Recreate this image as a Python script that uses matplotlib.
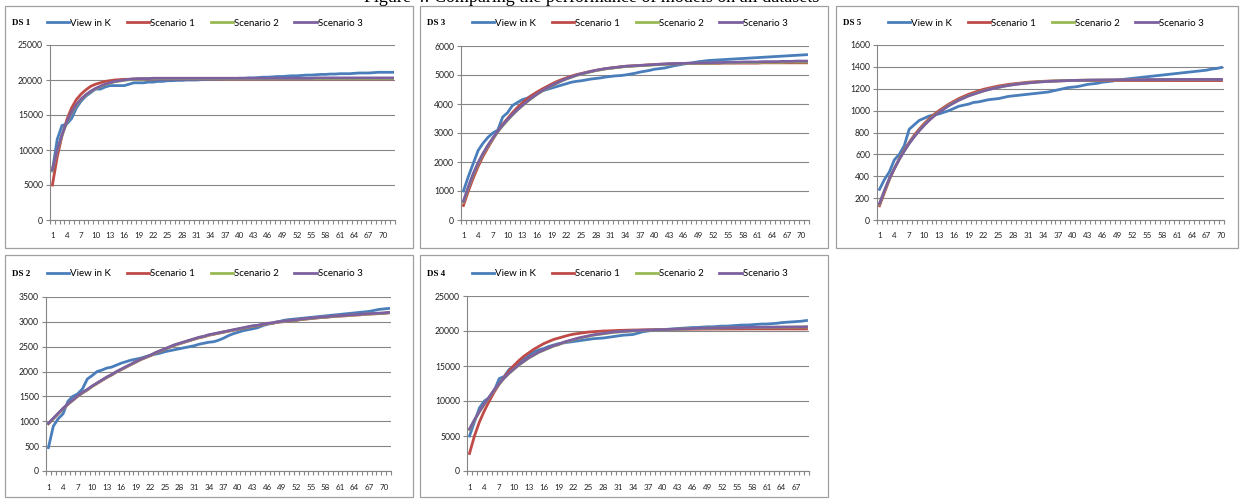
import numpy as np
import matplotlib.pyplot as plt
from matplotlib.patches import Rectangle

W, H = 1240, 499

series_names = ['View in K', 'Scenario 1', 'Scenario 2', 'Scenario 3']
series_colors = ['#4A7EBB', '#BE4B48', '#98B954', '#7D60A0']

# DS 1
ds1_view = [7000, 11500, 13500, 13700, 14500, 16000, 17000, 17700, 18200, 18700,
            18700, 19000, 19200, 19200, 19200, 19200, 19400, 19600, 19600, 19600,
            19700, 19700, 19800, 19800, 19900, 19900, 19950, 19950, 20000, 20000,
            20000, 20050, 20100, 20100, 20150, 20150, 20200, 20200, 20200, 20250,
            20250, 20300, 20300, 20350, 20400, 20400, 20450, 20500, 20500, 20550,
            20600, 20600, 20650, 20700, 20700, 20750, 20800, 20800, 20850, 20850,
            20900, 20900, 20900, 20950, 21000, 21000, 21000, 21050, 21100, 21100,
            21100, 21100]
ds1_s1 = [5000, 9000, 12000, 14300, 16000, 17200, 18000, 18600, 19100, 19400,
          19600, 19800, 19900, 20000, 20050, 20100, 20100, 20150, 20150, 20150,
          20150, 20150, 20150, 20150, 20150, 20150, 20150, 20150, 20150, 20150,
          20150, 20150, 20150, 20150, 20150, 20150, 20150, 20150, 20150, 20150,
          20150, 20150, 20150, 20150, 20150, 20150, 20150, 20150, 20150, 20150,
          20150, 20150, 20150, 20150, 20150, 20150, 20150, 20150, 20150, 20150,
          20150, 20150, 20150, 20150, 20150, 20150, 20150, 20150, 20150, 20150,
          20150, 20150]
ds1_s2 = [7100, 9900, 12100, 13900, 15300, 16400, 17250, 17850, 18350, 18750,
          19050, 19350, 19550, 19750, 19850, 19950, 20050, 20100, 20150, 20150,
          20200, 20200, 20200, 20200, 20200, 20200, 20200, 20200, 20200, 20200,
          20200, 20200, 20200, 20200, 20200, 20200, 20200, 20200, 20200, 20200,
          20200, 20200, 20200, 20200, 20200, 20200, 20200, 20200, 20200, 20200,
          20200, 20200, 20200, 20200, 20200, 20200, 20200, 20200, 20200, 20200,
          20200, 20200, 20200, 20200, 20200, 20200, 20200, 20200, 20200, 20200,
          20200, 20200]
ds1_s3 = [7200, 10000, 12200, 14000, 15400, 16500, 17300, 17900, 18400, 18800,
          19100, 19400, 19600, 19800, 19900, 20000, 20100, 20150, 20200, 20200,
          20200, 20250, 20250, 20250, 20250, 20250, 20250, 20250, 20250, 20250,
          20250, 20250, 20250, 20250, 20250, 20250, 20250, 20250, 20250, 20250,
          20250, 20250, 20250, 20250, 20250, 20250, 20250, 20250, 20250, 20250,
          20250, 20250, 20250, 20250, 20250, 20300, 20300, 20300, 20300, 20300,
          20300, 20300, 20300, 20300, 20300, 20300, 20300, 20300, 20300, 20300,
          20300, 20300]

# DS 3
ds3_view = [1000, 1500, 1950, 2400, 2650, 2850, 3000, 3100, 3550, 3700,
            3950, 4050, 4150, 4200, 4300, 4400, 4450, 4500, 4550, 4600,
            4650, 4700, 4750, 4780, 4800, 4830, 4860, 4880, 4900, 4930,
            4950, 4970, 4980, 5000, 5030, 5060, 5100, 5130, 5160, 5200,
            5220, 5240, 5280, 5320, 5350, 5380, 5400, 5430, 5460, 5480,
            5500, 5510, 5520, 5530, 5540, 5550, 5560, 5570, 5580, 5590,
            5600, 5610, 5620, 5630, 5640, 5650, 5660, 5670, 5680, 5690,
            5700]
ds3_s1 = [500, 1000, 1450, 1850, 2200, 2500, 2780, 3050, 3300, 3500,
          3700, 3880, 4040, 4180, 4300, 4410, 4510, 4600, 4690, 4770,
          4840, 4900, 4960, 5010, 5050, 5090, 5130, 5160, 5190, 5220,
          5240, 5260, 5280, 5300, 5310, 5320, 5330, 5340, 5350, 5360,
          5370, 5375, 5380, 5385, 5390, 5395, 5400, 5400, 5400, 5400,
          5400, 5400, 5400, 5410, 5410, 5410, 5410, 5410, 5410, 5410,
          5410, 5420, 5420, 5420, 5420, 5420, 5420, 5420, 5420, 5420,
          5420]
ds3_s2 = [620, 1120, 1570, 1950, 2280, 2560, 2810, 3040, 3250, 3440,
          3620, 3790, 3940, 4080, 4210, 4330, 4440, 4540, 4630, 4710,
          4790, 4860, 4920, 4980, 5030, 5070, 5110, 5150, 5180, 5210,
          5230, 5250, 5270, 5290, 5300, 5310, 5320, 5330, 5340, 5350,
          5360, 5370, 5380, 5390, 5390, 5400, 5400, 5400, 5410, 5410,
          5410, 5410, 5420, 5420, 5420, 5420, 5430, 5430, 5430, 5430,
          5430, 5440, 5440, 5440, 5440, 5440, 5450, 5450, 5450, 5450,
          5450]
ds3_s3 = [650, 1150, 1600, 1980, 2300, 2580, 2830, 3060, 3270, 3460,
          3640, 3800, 3950, 4090, 4220, 4340, 4450, 4550, 4640, 4720,
          4800, 4870, 4930, 4990, 5040, 5080, 5120, 5160, 5190, 5220,
          5240, 5260, 5280, 5300, 5310, 5320, 5330, 5340, 5350, 5360,
          5370, 5380, 5390, 5395, 5400, 5400, 5410, 5410, 5420, 5420,
          5420, 5430, 5430, 5430, 5440, 5440, 5440, 5450, 5450, 5450,
          5450, 5460, 5460, 5460, 5460, 5470, 5470, 5470, 5480, 5480,
          5480]

# DS 5
ds5_view = [280, 370, 440, 550, 600, 680, 830, 870, 910, 930,
            950, 960, 970, 985, 1000, 1020, 1040, 1050, 1060, 1075,
            1080, 1090, 1100, 1105, 1110, 1120, 1130, 1135, 1140, 1145,
            1150, 1155, 1160, 1165, 1170, 1180, 1190, 1200, 1210, 1215,
            1220, 1230, 1240, 1245, 1250, 1260, 1265, 1270, 1280, 1285,
            1290, 1295, 1300, 1305, 1310, 1315, 1320, 1325, 1330, 1335,
            1340, 1345, 1350, 1355, 1360, 1365, 1370, 1380, 1385, 1395]
ds5_s1 = [130, 250, 370, 470, 560, 640, 710, 775, 830, 880,
          925, 965, 1000, 1030, 1060, 1085, 1110, 1130, 1150, 1165,
          1180, 1195, 1205, 1215, 1225, 1232, 1240, 1245, 1250, 1255,
          1260, 1263, 1266, 1268, 1270, 1271, 1272, 1273, 1274, 1275,
          1275, 1275, 1275, 1275, 1275, 1275, 1275, 1275, 1275, 1275,
          1275, 1275, 1275, 1275, 1275, 1275, 1275, 1275, 1275, 1275,
          1275, 1275, 1275, 1275, 1275, 1275, 1275, 1275, 1275, 1275]
ds5_s2 = [145, 265, 378, 470, 556, 632, 702, 763, 818, 868,
          913, 953, 988, 1018, 1048, 1073, 1097, 1117, 1137, 1152,
          1167, 1181, 1193, 1204, 1214, 1223, 1231, 1238, 1244, 1249,
          1254, 1258, 1262, 1265, 1268, 1270, 1272, 1274, 1275, 1276,
          1277, 1278, 1279, 1279, 1280, 1280, 1280, 1281, 1281, 1281,
          1282, 1282, 1282, 1282, 1283, 1283, 1283, 1283, 1283, 1284,
          1284, 1284, 1284, 1284, 1284, 1284, 1284, 1284, 1284, 1284]
ds5_s3 = [150, 270, 380, 470, 555, 630, 700, 760, 815, 865,
          910, 950, 985, 1015, 1045, 1070, 1095, 1115, 1135, 1150,
          1165, 1180, 1192, 1203, 1213, 1222, 1230, 1237, 1243, 1248,
          1253, 1257, 1261, 1264, 1267, 1269, 1271, 1273, 1275, 1276,
          1277, 1278, 1279, 1280, 1280, 1281, 1281, 1282, 1282, 1282,
          1283, 1283, 1283, 1283, 1284, 1284, 1284, 1284, 1284, 1285,
          1285, 1285, 1285, 1285, 1285, 1285, 1285, 1285, 1285, 1285]

# DS 2
ds2_view = [470, 900, 1050, 1150, 1400, 1500, 1550, 1650, 1850, 1920,
            2000, 2030, 2070, 2090, 2130, 2170, 2200, 2230, 2250, 2270,
            2300, 2330, 2350, 2370, 2400, 2420, 2440, 2460, 2480, 2500,
            2520, 2550, 2570, 2590, 2600, 2630, 2670, 2720, 2760, 2790,
            2820, 2840, 2860, 2880, 2920, 2950, 2970, 2990, 3020, 3040,
            3050, 3060, 3070, 3080, 3090, 3100, 3110, 3120, 3130, 3140,
            3150, 3160, 3170, 3180, 3190, 3200, 3210, 3230, 3250, 3260,
            3270]
ds2_s1 = [950, 1050, 1150, 1250, 1340, 1420, 1500, 1570, 1630, 1700,
          1760, 1820, 1880, 1930, 1990, 2040, 2090, 2140, 2190, 2240,
          2280, 2320, 2370, 2410, 2450, 2490, 2530, 2560, 2590, 2620,
          2650, 2680, 2700, 2730, 2750, 2770, 2790, 2810, 2830, 2850,
          2870, 2890, 2910, 2920, 2940, 2960, 2970, 2990, 3000, 3010,
          3020, 3030, 3045, 3055, 3065, 3075, 3085, 3090, 3100, 3110,
          3115, 3120, 3130, 3135, 3140, 3150, 3155, 3160, 3165, 3170,
          3180]
ds2_s2 = [955, 1055, 1155, 1255, 1345, 1425, 1505, 1575, 1635, 1705,
          1765, 1825, 1885, 1935, 1995, 2045, 2095, 2145, 2195, 2245,
          2285, 2325, 2375, 2415, 2455, 2495, 2535, 2565, 2595, 2625,
          2655, 2685, 2705, 2735, 2755, 2775, 2795, 2815, 2835, 2855,
          2875, 2895, 2915, 2925, 2945, 2965, 2975, 2995, 3005, 3015,
          3025, 3035, 3050, 3060, 3070, 3080, 3090, 3095, 3105, 3115,
          3120, 3125, 3135, 3140, 3145, 3155, 3160, 3165, 3170, 3175,
          3185]
ds2_s3 = [960, 1060, 1160, 1260, 1350, 1430, 1510, 1580, 1640, 1710,
          1770, 1830, 1890, 1940, 2000, 2050, 2100, 2150, 2200, 2250,
          2290, 2330, 2380, 2420, 2460, 2500, 2540, 2570, 2600, 2630,
          2660, 2690, 2710, 2740, 2760, 2780, 2800, 2820, 2840, 2860,
          2880, 2900, 2920, 2930, 2950, 2970, 2980, 3000, 3010, 3020,
          3030, 3040, 3055, 3065, 3075, 3085, 3095, 3100, 3110, 3120,
          3125, 3130, 3140, 3145, 3150, 3160, 3165, 3170, 3175, 3180,
          3190]

# DS 4
ds4_view = [5000, 7000, 9000, 10000, 10500, 11500, 13200, 13500, 14500, 15000,
            15500, 16000, 16500, 17000, 17300, 17500, 17800, 18000, 18200, 18300,
            18400, 18500, 18600, 18700, 18800, 18900, 18950, 19000, 19100, 19200,
            19300, 19400, 19450, 19500, 19700, 19900, 20000, 20100, 20150, 20200,
            20250, 20300, 20350, 20400, 20450, 20500, 20500, 20550, 20600, 20600,
            20650, 20700, 20700, 20750, 20800, 20850, 20850, 20900, 20950, 21000,
            21000, 21050, 21100, 21200, 21250, 21300, 21350, 21400, 21500]
ds4_s1 = [2500, 5000, 7000, 8600, 10000, 11300, 12400, 13400, 14300, 15100,
          15800, 16400, 16900, 17400, 17800, 18200, 18500, 18800, 19000, 19200,
          19400, 19550, 19650, 19750, 19850, 19900, 19950, 20000, 20020, 20050,
          20080, 20100, 20120, 20140, 20150, 20170, 20180, 20190, 20200, 20210,
          20220, 20230, 20240, 20250, 20250, 20260, 20260, 20270, 20270, 20280,
          20280, 20280, 20290, 20290, 20290, 20290, 20300, 20300, 20300, 20300,
          20300, 20300, 20300, 20300, 20300, 20300, 20300, 20300, 20300]
ds4_s2 = [5900, 7250, 8450, 9550, 10550, 11550, 12450, 13250, 13950, 14550,
          15150, 15650, 16150, 16550, 16950, 17250, 17550, 17850, 18050, 18350,
          18550, 18750, 18950, 19100, 19250, 19400, 19500, 19600, 19700, 19800,
          19850, 19900, 19950, 20000, 20050, 20080, 20100, 20130, 20150, 20180,
          20200, 20230, 20250, 20280, 20300, 20330, 20350, 20380, 20400, 20410,
          20420, 20440, 20450, 20460, 20470, 20480, 20490, 20500, 20510, 20520,
          20520, 20530, 20530, 20540, 20540, 20550, 20550, 20560, 20570]
ds4_s3 = [6000, 7300, 8500, 9600, 10600, 11600, 12500, 13300, 14000, 14600,
          15200, 15700, 16200, 16600, 17000, 17300, 17600, 17900, 18100, 18400,
          18600, 18800, 19000, 19150, 19300, 19450, 19550, 19650, 19750, 19850,
          19900, 19950, 20000, 20050, 20080, 20100, 20130, 20150, 20180, 20200,
          20220, 20250, 20270, 20300, 20320, 20350, 20380, 20400, 20420, 20430,
          20450, 20460, 20470, 20480, 20490, 20500, 20510, 20520, 20530, 20540,
          20550, 20550, 20560, 20560, 20570, 20570, 20580, 20580, 20600]

# name, series, y max, y step, panel box (px), plot area (px), legend start (px)
panels = [
    ('DS 1', [ds1_view, ds1_s1, ds1_s2, ds1_s3], 25000, 5000,
     (5, 6, 413, 248), (50, 45, 395, 220), (47, 23)),
    ('DS 3', [ds3_view, ds3_s1, ds3_s2, ds3_s3], 6000, 1000,
     (420, 6, 828, 248), (461, 46, 809, 220), (472, 23)),
    ('DS 5', [ds5_view, ds5_s1, ds5_s2, ds5_s3], 1600, 200,
     (836, 6, 1238, 248), (877, 45, 1224, 220), (888, 23)),
    ('DS 2', [ds2_view, ds2_s1, ds2_s2, ds2_s3], 3500, 500,
     (5, 255, 413, 497), (46, 297, 391, 471), (47, 274)),
    ('DS 4', [ds4_view, ds4_s1, ds4_s2, ds4_s3], 25000, 5000,
     (420, 255, 828, 497), (467, 296, 809, 471), (472, 274)),
]

plt.rcParams['font.family'] = ['Lato', 'DejaVu Sans']
fig = plt.figure(figsize=(12.4, 4.99), dpi=100)

# caption of the page, cut off at the top edge as in the scan
fig.text(592 / W, 1 - 2 / H, 'Figure 4: Comparing the performance of models on all datasets',
         ha='center', va='baseline', fontsize=13, family='Liberation Serif')

for name, data, ymax, ystep, box, area, leg in panels:
    fig.patches.append(Rectangle((box[0] / W, 1 - box[3] / H),
                                 (box[2] - box[0]) / W, (box[3] - box[1]) / H,
                                 transform=fig.transFigure, fill=False,
                                 ec='#a0a0a0', lw=0.9))
    ax = fig.add_axes([area[0] / W, 1 - area[3] / H,
                       (area[2] - area[0]) / W, (area[3] - area[1]) / H])
    n = len(data[0])
    x = np.arange(1, n + 1)
    for vals, lab, col in zip(data, series_names, series_colors):
        ax.plot(x, vals, color=col, lw=2.0, label=lab)
    ax.set_xlim(0.5, n + 0.5)
    ax.set_ylim(0, ymax)
    ax.set_yticks(np.arange(0, ymax + 1, ystep))
    ax.set_xticks(x[::3])
    ax.set_xticks(np.arange(0.5, n + 1), minor=True)
    ax.tick_params(axis='x', which='major', length=0, pad=9, labelsize=5.8, labelcolor='#222222')
    ax.tick_params(axis='x', which='minor', length=3, color='#868686', width=0.8)
    ax.tick_params(axis='y', length=3, color='#868686', width=0.8, pad=2,
                   labelsize=6.2, labelcolor='#222222')
    ax.grid(axis='y', color='#868686', lw=0.8)
    ax.set_axisbelow(True)
    for s in ('top', 'right'):
        ax.spines[s].set_visible(False)
    for s in ('left', 'bottom'):
        ax.spines[s].set_color('#868686')
        ax.spines[s].set_linewidth(0.8)

    fig.text((box[0] + 7) / W, 1 - leg[1] / H, name, ha='left', va='center',
             fontsize=6.5, fontweight='bold', family='Liberation Serif')
    ax.legend(loc='center left', bbox_to_anchor=(leg[0] / W, 1 - leg[1] / H),
              bbox_transform=fig.transFigure, ncol=4, frameon=False,
              fontsize=7, handlelength=2.3, handletextpad=0.1,
              columnspacing=1.6, borderpad=0, borderaxespad=0)

fig.savefig('out.png', dpi=100)
